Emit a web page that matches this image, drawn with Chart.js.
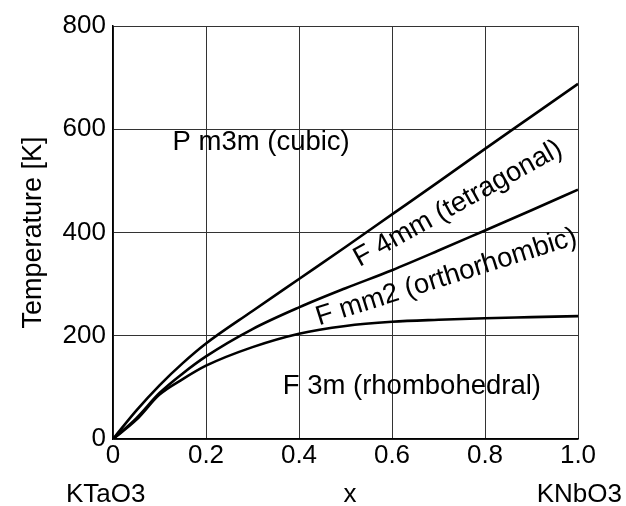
<!DOCTYPE html>
<html>
<head>
<meta charset="utf-8">
<script src="https://cdn.jsdelivr.net/npm/chart.js@4"></script>
<style>
  html, body { margin: 0; padding: 0; background: #fff; }
  #wrap { width: 626px; height: 506px; }
</style>
</head>
<body>
<div id="wrap"><canvas id="phaseChart" width="626" height="506"></canvas></div>
<script>
// Composición x de KTa(1-x)Nb(x)O3
const composition = [0, 0.05, 0.1, 0.15, 0.2, 0.3, 0.4, 0.5, 0.6, 0.7, 0.8, 0.9, 1.0];

const cubicTetragonal = [0, 55, 104, 147, 185, 248, 310, 372, 435, 498, 562, 625, 688];
const tetragonalOrthorhombic = [0, 40, 89, 127, 160, 213, 255, 292, 327, 365, 404, 443, 483];
const orthorhombicRhombohedral = [0, 37, 86, 116, 142, 178, 204, 219, 227, 231, 234, 236, 238];

// Etiquetas de los ejes
const xTickLabels = ['0', '0.2', '0.4', '0.6', '0.8', '1.0'];
const yTickLabels = ['0', '200', '400', '600', '800'];

// Nombres de las fases
const phaseNames = ['P m3m (cubic)', 'F 4mm (tetragonal)', 'F mm2 (orthorhombic)', 'F 3m (rhombohedral)'];
const endMembers = ['KTaO3', 'KNbO3'];

const FONT = '"Liberation Sans", Arial, Helvetica, sans-serif';

// Dónde va cada nombre (coordenadas de datos) y su giro
const phasePlacement = [
    { x: 0.128, y: 559, angle: 0 },
    { x: 0.53, y: 333, angle: -29 },
    { x: 0.443, y: 220, angle: -17.5 },
    { x: 0.365, y: 88, angle: 0 }
];

function toPoints(values) {
    return composition.map((x, i) => ({ x: x, y: values[i] }));
}

function curve(values) {
    return {
        data: toPoints(values),
        borderColor: '#000',
        borderWidth: 2.6,
        pointRadius: 0,
        fill: false,
        cubicInterpolationMode: 'monotone'
    };
}

// Textos de las fases y de los extremos del eje x
const labelsPlugin = {
    id: 'phaseLabels',
    afterDatasetsDraw(chart) {
        const c = chart.ctx;
        const xs = chart.scales.x;
        const ys = chart.scales.y;
        c.save();
        c.fillStyle = '#000';
        c.font = '27.5px ' + FONT;
        c.textBaseline = 'alphabetic';
        c.textAlign = 'left';
        phaseNames.forEach((name, i) => {
            const p = phasePlacement[i];
            c.save();
            c.translate(xs.getPixelForValue(p.x), ys.getPixelForValue(p.y));
            c.rotate(p.angle * Math.PI / 180);
            c.fillText(name, 0, 0);
            c.restore();
        });
        c.font = '26px ' + FONT;
        c.textAlign = 'left';
        c.fillText(endMembers[0], 66, 502);
        c.textAlign = 'right';
        c.fillText(endMembers[1], 622, 502);
        c.textAlign = 'center';
        c.fillText('x', 350, 502);
        c.restore();
    }
};

const ctx = document.getElementById('phaseChart').getContext('2d');

new Chart(ctx, {
    type: 'line',
    data: {
        datasets: [
            curve(cubicTetragonal),
            curve(tetragonalOrthorhombic),
            curve(orthorhombicRhombohedral)
        ]
    },
    options: {
        responsive: false,
        animation: false,
        devicePixelRatio: 1,
        layout: { padding: { top: 26, right: 48, left: 0, bottom: 0 } },
        plugins: {
            legend: { display: false },
            tooltip: { enabled: false }
        },
        scales: {
            x: {
                type: 'linear',
                min: 0,
                max: 1,
                afterFit: (scale) => { scale.height = 67; },
                afterBuildTicks: (scale) => {
                    scale.ticks = xTickLabels.map(t => ({ value: parseFloat(t) }));
                },
                ticks: {
                    color: '#000',
                    font: { family: FONT, size: 26 },
                    padding: 1,
                    maxRotation: 0,
                    autoSkip: false,
                    callback: (value, i) => xTickLabels[i]
                },
                grid: { color: '#333', lineWidth: 1, drawTicks: false },
                border: { color: '#000', width: 1.5 }
            },
            y: {
                type: 'linear',
                min: 0,
                max: 800,
                afterFit: (scale) => { scale.width = 113; },
                afterBuildTicks: (scale) => {
                    scale.ticks = yTickLabels.map(t => ({ value: parseFloat(t) }));
                },
                ticks: {
                    color: '#000',
                    font: { family: FONT, size: 26 },
                    padding: 7,
                    autoSkip: false,
                    callback: (value, i) => yTickLabels[i]
                },
                grid: { color: '#333', lineWidth: 1, drawTicks: false },
                border: { color: '#000', width: 1.5 },
                title: {
                    display: true,
                    text: 'Temperature [K]',
                    color: '#000',
                    font: { family: FONT, size: 27 },
                    padding: { top: 17, bottom: 0 }
                }
            }
        }
    },
    plugins: [labelsPlugin]
});
</script>
</body>
</html>
